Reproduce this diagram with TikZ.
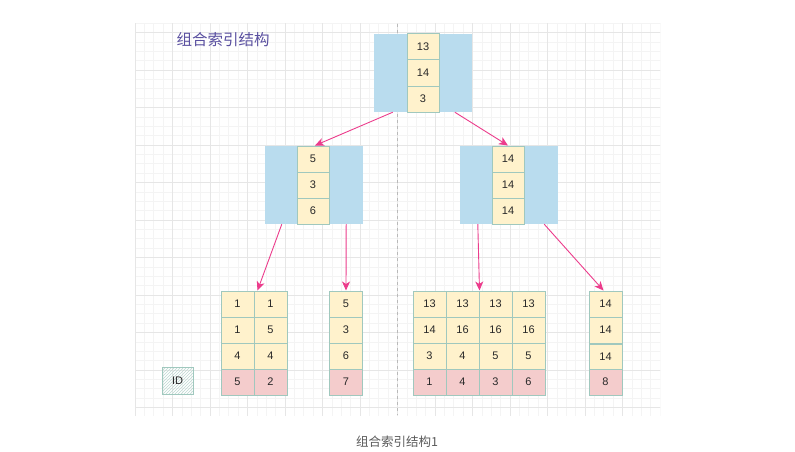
\documentclass[tikz,border=0pt]{standalone}
\usepackage{fontspec}
\setmainfont{Liberation Sans}
\newfontfamily\cjk{Noto Sans CJK SC}
\usetikzlibrary{arrows.meta,patterns,calc}
\definecolor{blu}{RGB}{185,220,238}
\definecolor{yel}{RGB}{255,242,204}
\definecolor{pnk}{RGB}{244,204,204}
\definecolor{bord}{RGB}{160,200,190}
\definecolor{arrc}{RGB}{236,60,140}
\definecolor{ttl}{RGB}{90,80,160}
\definecolor{txt}{RGB}{40,40,40}
\definecolor{capc}{RGB}{90,90,90}
\definecolor{gmin}{RGB}{244,244,244}
\definecolor{gmaj}{RGB}{230,230,230}
\tikzset{
  blk/.style={fill=blu, draw=none, minimum width=98pt, minimum height=78pt, inner sep=0pt},
  cell/.style={draw=bord, line width=1pt, fill=yel, minimum width=33pt, minimum height=26pt, inner sep=0pt, font=\fontsize{11}{13}\selectfont, text=txt},
  cellp/.style={cell, fill=pnk},
  icell/.style={cell, minimum width=32pt},
  arr/.style={draw=arrc, line width=0.9pt, -{Stealth[length=9pt,width=8pt,inset=2.5pt]}},
}
\begin{document}
\begin{tikzpicture}[x=1pt,y=-1pt]
\useasboundingbox (0,0) rectangle (795,452);
\fill[white] (0,0) rectangle (795,452);
% grid
\begin{scope}
\clip (135,24) rectangle (660,415);
\foreach \x in {135,144.375,...,665} \draw[gmin, line width=0.6pt] (\x,0) -- (\x,452);
\foreach \y in {23.125,32.5,...,420} \draw[gmin, line width=0.6pt] (0,\y) -- (795,\y);
\foreach \x in {135,172.5,...,665} \draw[gmaj, line width=0.7pt] (\x,0) -- (\x,452);
\foreach \y in {32.5,70,...,420} \draw[gmaj, line width=0.7pt] (0,\y) -- (795,\y);
\end{scope}
\coordinate (dtop) at (397.5,24);
\coordinate (dbot) at (397.5,415);
\draw[gray!55, line width=0.7pt, dash pattern=on 3pt off 3pt] (dtop) -- (dbot);

% title
\node[text=ttl, font=\cjk\fontsize{15.5}{18}\selectfont, inner sep=0pt] (title) at (223,40) {组合索引结构};

% root
\node[blk] (r) at (423,73) {};
\node[icell] (r1) at (423,47) {13};
\node[icell] (r2) at (423,73) {14};
\node[icell] (r3) at (423,99) {3};

% mid left
\node[blk] (m1) at (314,185) {};
\node[icell] (m1a) at (313,159) {5};
\node[icell] (m1b) at (313,185) {3};
\node[icell] (m1c) at (313,211) {6};

% mid right
\node[blk] (m2) at (509,185) {};
\node[icell] (m2a) at (508,159) {14};
\node[icell] (m2b) at (508,185) {14};
\node[icell] (m2c) at (508,211) {14};

% leaf 1
\node[cell] (la1) at (237.5,304) {1};
\node[cell] (la2) at (237.5,330) {1};
\node[cell] (la3) at (237.5,356) {4};
\node[cellp] (la4) at (237.5,382) {5};
\node[cell] (lb1) at (270.5,304) {1};
\node[cell] (lb2) at (270.5,330) {5};
\node[cell] (lb3) at (270.5,356) {4};
\node[cellp] (lb4) at (270.5,382) {2};

% leaf 2
\node[cell] (lc1) at (346,304) {5};
\node[cell] (lc2) at (346,330) {3};
\node[cell] (lc3) at (346,356) {6};
\node[cellp] (lc4) at (346,382) {7};

% leaf 3
\node[cell] (ld1) at (429.5,304) {13};
\node[cell] (ld2) at (429.5,330) {14};
\node[cell] (ld3) at (429.5,356) {3};
\node[cellp] (ld4) at (429.5,382) {1};
\node[cell] (le1) at (462.5,304) {13};
\node[cell] (le2) at (462.5,330) {16};
\node[cell] (le3) at (462.5,356) {4};
\node[cellp] (le4) at (462.5,382) {4};
\node[cell] (lf1) at (495.5,304) {13};
\node[cell] (lf2) at (495.5,330) {16};
\node[cell] (lf3) at (495.5,356) {5};
\node[cellp] (lf4) at (495.5,382) {3};
\node[cell] (lg1) at (528.5,304) {13};
\node[cell] (lg2) at (528.5,330) {16};
\node[cell] (lg3) at (528.5,356) {5};
\node[cellp] (lg4) at (528.5,382) {6};

% leaf 4
\node[cell] (lh1) at (605.5,304) {14};
\node[cell] (lh2) at (605.5,330) {14};
\node[cell] (lh3) at (605.5,357) {14};
\node[cellp] (lh4) at (605.5,382) {8};

% ID legend
\node[draw=bord, line width=1pt, pattern=north east lines, pattern color=bord!70, minimum width=31pt, minimum height=27pt, inner sep=0pt, font=\fontsize{11}{13}\selectfont, text=txt] (id) at (177.5,380.5) {ID};

% arrows
\draw[arr] ([xshift=19pt]r.south west) -- ([xshift=2pt]m1a.north);
\draw[arr] ([xshift=81pt]r.south west) -- (m2a.north);
\draw[arr] ([xshift=17pt]m1.south west) -- ([xshift=3pt]la1.north east);
\draw[arr] ([xshift=-17pt]m1.south east) -- (lc1.north);
\draw[arr] ([xshift=18pt]m2.south west) -- (le1.north east);
\draw[arr] ([xshift=-14pt]m2.south east) -- ([xshift=-2pt]lh1.north);

% caption
\node[text=capc, font=\cjk\fontsize{12.5}{15}\selectfont, inner sep=0pt] (cap) at (397,442) {组合索引结构1};
\end{tikzpicture}
\end{document}
